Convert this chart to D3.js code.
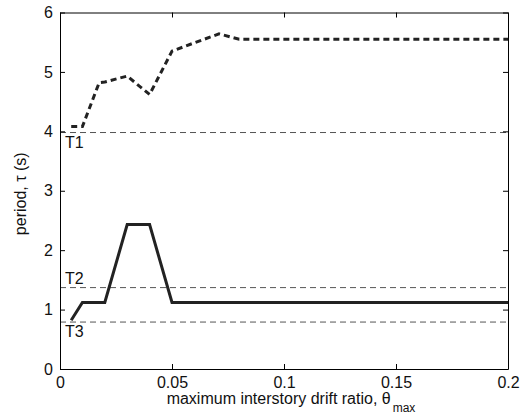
<!DOCTYPE html>
<html>
<head>
<meta charset="utf-8">
<script src="https://cdn.jsdelivr.net/npm/d3@7"></script>
<style>
  html, body { margin: 0; padding: 0; background: #fff; }
  text { font-family: "Liberation Sans", Arial, sans-serif; }
</style>
</head>
<body>
<svg id="chart" width="520" height="419"></svg>
<script>
// Drift ratio (x) and fundamental period estimates (y)
const driftUpper = [0.005, 0.01, 0.0175, 0.02, 0.03, 0.04, 0.05, 0.06, 0.071, 0.08, 0.2];
const periodUpper = [4.08, 4.08, 4.82, 4.83, 4.93, 4.62, 5.35, 5.49, 5.64, 5.55, 5.55];

const driftLower = [0.005, 0.01, 0.02, 0.03, 0.04, 0.05, 0.2];
const periodLower = [0.82, 1.12, 1.12, 2.43, 2.43, 1.12, 1.12];

// Reference modal periods
const refNames = ["T1", "T2", "T3"];
const refPeriods = [3.98, 1.37, 0.79];

const xTicks = [0, 0.05, 0.1, 0.15, 0.2];
const xTickLabels = ["0", "0.05", "0.1", "0.15", "0.2"];
const yTicks = [0, 1, 2, 3, 4, 5, 6];

const FS = 16;
const margin = { left: 60, right: 12, top: 12.5, bottom: 50 };
const W = 520, H = 419;
const svg = d3.select("#chart");

const x = d3.scaleLinear().domain([0, 0.2]).range([margin.left, W - margin.right]);
const y = d3.scaleLinear().domain([0, 6]).range([H - margin.bottom, margin.top]);

const x0 = x.range()[0], x1 = x.range()[1];
const y0 = y.range()[0], y1 = y.range()[1];

// Reference period lines
const refG = svg.append("g");
refPeriods.forEach((p) => {
  refG.append("line")
    .attr("x1", x0).attr("x2", x1)
    .attr("y1", y(p)).attr("y2", y(p))
    .attr("stroke", "#555").attr("stroke-width", 1)
    .attr("stroke-dasharray", "6,4");
});
// Labels: T1 and T3 below their lines, T2 above
const labelOffsets = [15, -4, 15];
refNames.forEach((n, i) => {
  refG.append("text")
    .attr("x", x0 + 5)
    .attr("y", y(refPeriods[i]) + labelOffsets[i])
    .attr("font-size", FS)
    .attr("fill", "#111")
    .text(n);
});

const line = d3.line().x(d => x(d[0])).y(d => y(d[1]));

svg.append("path")
  .datum(d3.zip(driftUpper, periodUpper))
  .attr("d", line)
  .attr("fill", "none")
  .attr("stroke", "#222")
  .attr("stroke-width", 3)
  .attr("stroke-dasharray", "6,4");

svg.append("path")
  .datum(d3.zip(driftLower, periodLower))
  .attr("d", line)
  .attr("fill", "none")
  .attr("stroke", "#222")
  .attr("stroke-width", 3)
  .attr("stroke-linejoin", "miter");

// Axes: ticks pointing inward on all four sides
const tickLen = 5;
const axB = d3.axisBottom(x).tickValues(xTicks).tickFormat((d, i) => xTickLabels[i])
  .tickSizeInner(-tickLen).tickSizeOuter(0).tickPadding(8);
const axT = d3.axisTop(x).tickValues(xTicks).tickFormat("")
  .tickSizeInner(-tickLen).tickSizeOuter(0);
const axL = d3.axisLeft(y).tickValues(yTicks).tickFormat(d3.format("d"))
  .tickSizeInner(-tickLen).tickSizeOuter(0).tickPadding(7);
const axR = d3.axisRight(y).tickValues(yTicks).tickFormat("")
  .tickSizeInner(-tickLen).tickSizeOuter(0);

function style(g) {
  g.select(".domain").attr("stroke", "#000");
  g.selectAll(".tick line").attr("stroke", "#000");
  g.selectAll(".tick text").attr("font-size", FS).attr("fill", "#111")
    .attr("font-family", "Liberation Sans, Arial, sans-serif");
}

svg.append("g").attr("transform", `translate(0,${y0})`).call(axB).call(style);
svg.append("g").attr("transform", `translate(0,${y1})`).call(axT).call(style);
svg.append("g").attr("transform", `translate(${x0},0)`).call(axL).call(style);
svg.append("g").attr("transform", `translate(${x1},0)`).call(axR).call(style);

// Axis titles
const xt = svg.append("text")
  .attr("x", (x0 + x1) / 2 + 7)
  .attr("y", 404)
  .attr("text-anchor", "middle")
  .attr("font-size", FS)
  .attr("fill", "#111");
xt.append("tspan").text("maximum interstory drift ratio, \u03B8");
xt.append("tspan").attr("dx", 2).attr("dy", 8).attr("font-size", 12).text("max");

svg.append("text")
  .attr("transform", `translate(26,${(y0 + y1) / 2 + 3}) rotate(-90)`)
  .attr("text-anchor", "middle")
  .attr("font-size", FS)
  .attr("fill", "#111")
  .text("period, \u03C4 (s)");
</script>
</body>
</html>
